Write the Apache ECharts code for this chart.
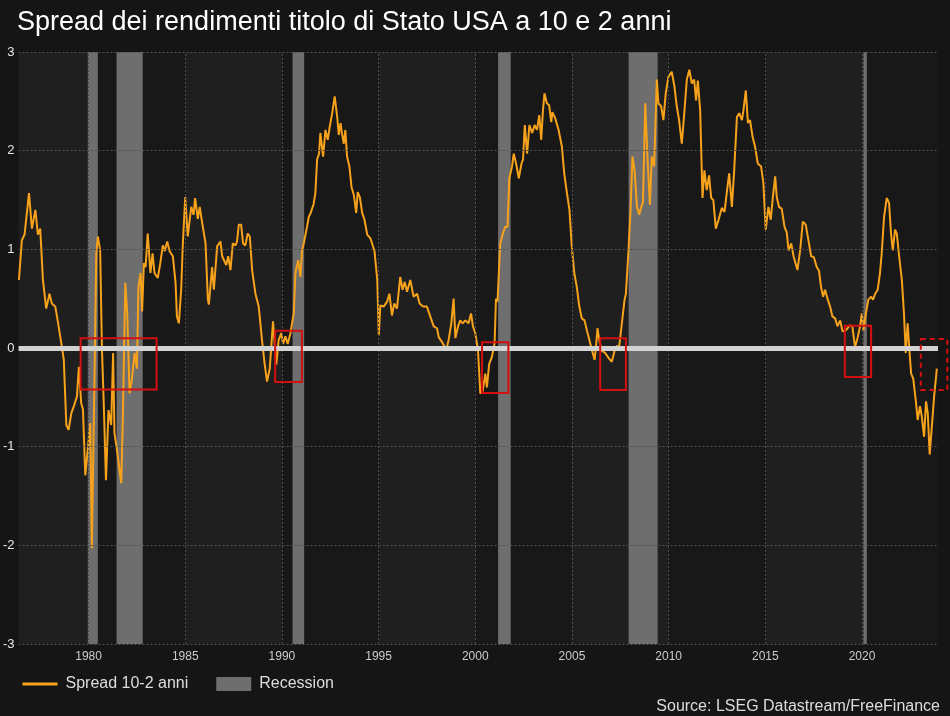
<!DOCTYPE html>
<html>
<head>
<meta charset="utf-8">
<script src="https://cdn.jsdelivr.net/npm/echarts@6/dist/echarts.min.js"></script>
<style>
html,body{margin:0;padding:0;background:#151515;}
#chart{width:950px;height:716px;}
</style>
</head>
<body>
<div id="chart"></div>
<script>
// ---- Data (decimal year, spread 10y-2y in percentage points) ----
var spread1970s = [
 [1976.40,0.69],[1976.55,1.09],[1976.69,1.15],[1976.92,1.57],[1977.07,1.21],[1977.25,1.40],[1977.38,1.15],[1977.50,1.21],
 [1977.64,0.69],[1977.81,0.40],[1977.98,0.55],[1978.10,0.45],[1978.28,0.42],[1978.41,0.27],[1978.59,0.05],[1978.72,-0.12],
 [1978.85,-0.78],[1978.97,-0.83],[1979.11,-0.66],[1979.24,-0.59],[1979.40,-0.49],[1979.50,-0.19],[1979.62,-0.56],[1979.71,-0.62],
 [1979.83,-1.29],[1979.96,-1.03]
];
var spread1980s = [
 [1980.09,-0.76],[1980.17,-2.03],[1980.31,-0.26],[1980.40,0.96],[1980.48,1.13],[1980.60,0.99],[1980.69,0.01],[1980.79,-0.59],
 [1980.90,-1.34],[1981.03,-0.63],[1981.17,-0.78],[1981.27,-0.05],[1981.34,-0.86],[1981.46,-1.02],[1981.69,-1.37],[1981.77,-0.73],
 [1981.90,0.66],[1982.00,0.35],[1982.12,-0.46],[1982.24,-0.32],[1982.38,-0.05],[1982.50,-0.21],[1982.58,0.62],[1982.69,0.76],
 [1982.77,0.37],[1982.86,0.86],[1982.95,0.82],[1983.06,1.16],[1983.20,0.76],[1983.31,0.96],[1983.41,0.76],[1983.58,0.71],
 [1983.71,0.86],[1983.84,1.04],[1983.93,0.98],[1984.07,1.08],[1984.19,0.98],[1984.36,0.93],[1984.50,0.66],[1984.57,0.32],
 [1984.67,0.25],[1984.79,0.59],[1984.87,1.03],[1985.00,1.53],[1985.13,1.13],[1985.31,1.43],[1985.43,1.35],[1985.51,1.52],
 [1985.65,1.31],[1985.75,1.43],[1985.85,1.30],[1986.05,1.06],[1986.17,0.49],[1986.22,0.44],[1986.39,0.82],[1986.48,0.59],
 [1986.65,1.03],[1986.82,1.08],[1986.91,0.93],[1987.12,0.84],[1987.22,0.93],[1987.34,0.79],[1987.46,1.06],[1987.60,1.04],
 [1987.68,1.08],[1987.77,1.25],[1987.89,1.25],[1987.99,1.06],[1988.11,1.04],[1988.23,1.16],[1988.34,1.13],[1988.46,0.79],
 [1988.63,0.55],[1988.80,0.42],[1988.97,0.08],[1989.10,-0.15],[1989.23,-0.34],[1989.37,-0.21],[1989.54,0.27],[1989.71,-0.17],
 [1989.83,0.08],[1989.97,0.15]
];
var spread1990s = [
 [1990.06,0.04],[1990.18,0.12],[1990.30,0.04],[1990.44,0.15],[1990.61,0.35],[1990.70,0.76],[1990.84,0.89],[1990.96,0.72],
 [1991.04,0.98],[1991.16,1.09],[1991.30,1.23],[1991.39,1.33],[1991.47,1.36],[1991.64,1.46],[1991.73,1.57],[1991.82,1.91],
 [1991.92,1.97],[1991.99,2.18],[1992.13,1.94],[1992.25,2.21],[1992.37,2.11],[1992.47,2.24],[1992.60,2.38],[1992.73,2.55],
 [1992.86,2.34],[1992.94,2.16],[1993.03,2.28],[1993.11,2.17],[1993.20,2.07],[1993.28,2.21],[1993.37,1.94],[1993.49,1.84],
 [1993.60,1.63],[1993.72,1.55],[1993.84,1.37],[1993.92,1.58],[1994.03,1.53],[1994.15,1.37],[1994.27,1.30],[1994.41,1.15],
 [1994.58,1.11],[1994.79,0.98],[1994.93,0.69],[1995.01,0.13],[1995.09,0.43],[1995.26,0.42],[1995.44,0.47],[1995.56,0.55],
 [1995.69,0.33],[1995.81,0.45],[1995.95,0.40],[1996.12,0.72],[1996.24,0.59],[1996.35,0.67],[1996.47,0.57],[1996.64,0.69],
 [1996.81,0.52],[1996.99,0.55],[1997.12,0.45],[1997.30,0.42],[1997.50,0.42],[1997.67,0.32],[1997.85,0.22],[1998.02,0.20],
 [1998.11,0.11],[1998.28,0.06],[1998.50,-0.02],[1998.62,0.08],[1998.76,0.25],[1998.88,0.50],[1998.97,0.10],[1999.11,0.22],
 [1999.22,0.28],[1999.35,0.25],[1999.48,0.28],[1999.65,0.25],[1999.78,0.35],[1999.88,0.22]
];
var spread2000s = [
 [2000.00,0.15],[2000.14,-0.02],[2000.26,-0.46],[2000.38,-0.44],[2000.52,-0.26],[2000.60,-0.40],[2000.72,-0.16],[2000.86,-0.09],
 [2001.00,0.05],[2001.07,0.50],[2001.15,0.47],[2001.29,1.06],[2001.43,1.16],[2001.55,1.23],[2001.67,1.23],[2001.76,1.72],
 [2001.90,1.84],[2001.99,1.97],[2002.11,1.87],[2002.25,1.72],[2002.39,1.87],[2002.47,1.91],[2002.56,2.26],[2002.68,1.97],
 [2002.80,2.26],[2002.94,2.18],[2003.07,2.26],[2003.19,2.21],[2003.31,2.36],[2003.41,2.11],[2003.50,2.41],[2003.58,2.58],
 [2003.70,2.48],[2003.82,2.46],[2003.93,2.29],[2003.99,2.39],[2004.13,2.33],[2004.31,2.21],[2004.48,2.04],[2004.60,1.77],
 [2004.74,1.57],[2004.87,1.40],[2004.99,1.03],[2005.12,0.76],[2005.25,0.62],[2005.38,0.42],[2005.51,0.30],[2005.65,0.28],
 [2005.77,0.18],[2005.94,0.05],[2006.06,-0.04],[2006.17,-0.12],[2006.24,0.01],[2006.32,0.20],[2006.43,0.06],[2006.55,-0.03],
 [2006.72,-0.05],[2006.89,-0.10],[2007.06,-0.14],[2007.20,-0.03],[2007.32,0.02],[2007.44,0.01],[2007.58,0.25],[2007.72,0.49],
 [2007.79,0.55],[2007.92,0.98],[2008.03,1.40],[2008.13,1.94],[2008.24,1.80],[2008.36,1.43],[2008.48,1.35],[2008.58,1.43],
 [2008.67,1.47],[2008.79,2.48],[2008.91,1.91],[2009.03,1.45],[2009.13,1.94],[2009.25,1.84],[2009.39,2.72],[2009.47,2.48],
 [2009.61,2.45],[2009.73,2.31],[2009.85,2.58],[2009.99,2.75]
];
var spread2010s = [
 [2010.16,2.80],[2010.30,2.65],[2010.42,2.45],[2010.54,2.31],[2010.68,2.07],[2010.82,2.41],[2010.94,2.72],[2011.07,2.82],
 [2011.20,2.68],[2011.32,2.72],[2011.42,2.51],[2011.51,2.71],[2011.63,2.41],[2011.75,1.52],[2011.85,1.80],[2011.97,1.60],
 [2012.09,1.75],[2012.20,1.52],[2012.31,1.50],[2012.44,1.21],[2012.58,1.30],[2012.75,1.42],[2012.89,1.38],[2013.01,1.58],
 [2013.13,1.77],[2013.27,1.43],[2013.39,1.80],[2013.53,2.34],[2013.65,2.38],[2013.79,2.31],[2013.87,2.41],[2013.99,2.61],
 [2014.10,2.28],[2014.21,2.31],[2014.34,2.14],[2014.47,2.04],[2014.61,1.87],[2014.78,1.84],[2014.90,1.67],[2015.02,1.20],
 [2015.16,1.43],[2015.28,1.30],[2015.39,1.53],[2015.51,1.74],[2015.59,1.53],[2015.71,1.43],[2015.85,1.41],[2015.99,1.23],
 [2016.11,1.17],[2016.20,0.99],[2016.34,1.06],[2016.46,0.93],[2016.66,0.79],[2016.80,0.99],[2016.94,1.28],[2017.09,1.25],
 [2017.23,1.09],[2017.37,0.93],[2017.51,0.92],[2017.66,0.82],[2017.78,0.78],[2017.88,0.62],[2017.99,0.52],[2018.09,0.59],
 [2018.23,0.49],[2018.35,0.42],[2018.47,0.32],[2018.61,0.30],[2018.73,0.22],[2018.87,0.28],[2018.99,0.17],[2019.16,0.18],
 [2019.38,0.23],[2019.50,0.22],[2019.64,0.01],[2019.78,0.11],[2019.90,0.22]
];
var spread2020s = [
 [2019.99,0.35],[2020.07,0.18],[2020.20,0.35],[2020.33,0.49],[2020.47,0.52],[2020.57,0.49],[2020.68,0.55],[2020.81,0.59],
 [2020.93,0.76],[2021.02,0.96],[2021.14,1.33],[2021.28,1.52],[2021.40,1.47],[2021.50,1.16],[2021.59,0.99],[2021.71,1.20],
 [2021.80,1.16],[2021.92,0.93],[2022.06,0.69],[2022.17,0.35],[2022.26,-0.05],[2022.36,0.25],[2022.45,-0.02],[2022.54,-0.26],
 [2022.65,-0.31],[2022.78,-0.53],[2022.88,-0.73],[2023.00,-0.59],[2023.09,-0.69],[2023.21,-0.90],[2023.31,-0.54],[2023.40,-0.66],
 [2023.50,-1.08],[2023.61,-0.80],[2023.73,-0.49],[2023.87,-0.21]
];
// US recessions [start, end] in decimal years
var recessions = [[1979.96,1980.48],[1981.45,1982.80],[1990.55,1991.15],[2001.18,2001.83],[2007.93,2009.43],[2020.07,2020.25]];
// Highlight boxes [x0, x1, yTop, yBottom, dashed]
var boxes = [
 [1979.59,1983.52,0.10,-0.42,0],
 [1989.65,1991.03,0.175,-0.345,0],
 [2000.35,2001.71,0.058,-0.456,0],
 [2006.46,2007.79,0.098,-0.425,0],
 [2019.11,2020.47,0.226,-0.294,0],
 [2023.04,2024.41,0.09,-0.425,1]
];
var tickYears = [1980,1985,1990,1995,2000,2005,2010,2015,2020];
var yTicks = [-3,-2,-1,0,1,2,3];
var xMin = 1976.38, xMax = 2023.93;

var spreadData = [].concat(spread1970s, spread1980s, spread1990s, spread2000s, spread2010s, spread2020s);

// alternating 5-year background bands (lighter ones)
var lightBands = [];
tickYears.forEach(function (t, i) {
  if (i % 2 === 0) lightBands.push([{xAxis: Math.max(t - 5, xMin)}, {xAxis: Math.min(t, xMax)}]);
});
var gridLines = tickYears.map(function (t) { return {xAxis: t}; })
  .concat(yTicks.filter(function (v) { return v !== 0; }).map(function (v) { return {yAxis: v}; }));

var chart = echarts.init(document.getElementById('chart'));
var font = "'Liberation Sans', Arial, sans-serif";
var option = {
  backgroundColor: '#151515',
  animation: false,
  textStyle: {fontFamily: font},
  title: {
    text: 'Spread dei rendimenti titolo di Stato USA a 10 e 2 anni',
    left: 17, top: 9, padding: 0,
    textStyle: {color: '#ffffff', fontSize: 27, fontWeight: 'normal', fontFamily: font}
  },
  grid: {left: 18, right: 12, top: 52, bottom: 72, show: true, backgroundColor: '#181818', borderWidth: 0},
  legend: {
    left: 21, top: 676, padding: 0, itemWidth: 35, itemHeight: 14, itemGap: 28,
    textStyle: {color: '#dddddd', fontSize: 16, fontFamily: font, padding: [0, 0, 0, 3]},
    data: [
      {name: 'Spread 10-2 anni', itemStyle: {opacity: 0}, lineStyle: {width: 3}},
      {name: 'Recession', icon: 'rect'}
    ]
  },
  graphic: [{
    type: 'text', right: 10, top: 699,
    style: {text: 'Source: LSEG Datastream/FreeFinance', fill: '#dddddd', fontSize: 16, fontFamily: font}
  }],
  xAxis: {
    type: 'value', min: xMin, max: xMax,
    axisLine: {show: false}, axisTick: {show: false}, splitLine: {show: false},
    axisLabel: {customValues: tickYears, color: '#cccccc', fontSize: 12, margin: 7,
      formatter: function (v) { return String(Math.round(v)); }}
  },
  yAxis: {
    type: 'value', min: -3, max: 3, interval: 1,
    axisLine: {show: false}, axisTick: {show: false},
    axisLabel: {color: '#e6e6e6', fontSize: 13, margin: 4},
    splitLine: {show: false}
  },
  series: [
    {
      name: 'bands', type: 'line', data: [], z: 0,
      markArea: {silent: true, itemStyle: {color: '#1f1f1f'}, data: lightBands}
    },
    {
      name: 'grid', type: 'line', data: [], z: 1,
      markLine: {silent: true, symbol: 'none', label: {show: false},
        lineStyle: {color: '#505050', type: [2, 2], width: 1},
        data: gridLines}
    },
    {
      name: 'Recession', type: 'line', data: [], itemStyle: {color: '#6e6e6e'}, z: 2,
      markArea: {silent: true, itemStyle: {color: '#6e6e6e'},
        data: recessions.map(function (r) { return [{xAxis: r[0]}, {xAxis: r[1]}]; })}
    },
    {
      name: 'zero', type: 'line', data: [], z: 3,
      markLine: {silent: true, symbol: 'none', label: {show: false},
        lineStyle: {color: '#d2d2d2', type: 'solid', width: 5},
        data: [{yAxis: 0}]}
    },
    {
      name: 'Spread 10-2 anni', type: 'line', data: spreadData, showSymbol: false, symbol: 'none',
      lineStyle: {color: '#f7a21b', width: 2}, itemStyle: {color: '#f7a21b'}, z: 4
    },
    {
      name: 'boxes', type: 'custom', data: boxes, clip: false, z: 5,
      renderItem: function (params, api) {
        var p0 = api.coord([api.value(0), api.value(2)]);
        var p1 = api.coord([api.value(1), api.value(3)]);
        return {
          type: 'rect',
          shape: {x: p0[0], y: p0[1], width: p1[0] - p0[0], height: p1[1] - p0[1]},
          style: {fill: 'none', stroke: '#d40f0f', lineWidth: 2, lineDash: api.value(4) ? [5, 4] : null}
        };
      }
    }
  ]
};
chart.setOption(option);
</script>
</body>
</html>
